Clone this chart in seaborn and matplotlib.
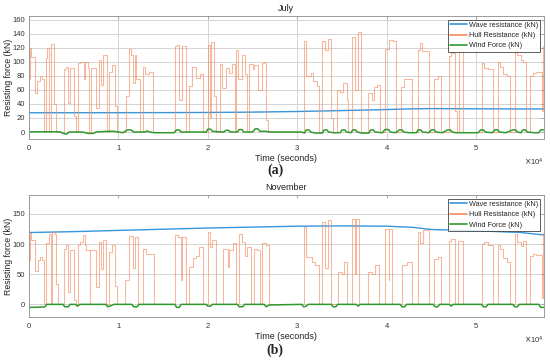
import numpy as np
import pandas as pd
import seaborn as sns
import matplotlib.pyplot as plt
from matplotlib.ticker import ScalarFormatter

# time axis values are in units of 1e4 seconds
wave_t = [0.0, 0.5, 1.0, 1.5, 2.0, 2.5, 3.0, 3.5, 4.0, 4.3, 4.5, 5.0, 5.5, 5.755]
jul_wave = [27.4, 27.4, 27.5, 27.6, 27.8, 28.3, 29.2, 30.5, 32.0, 33.0, 33.3, 33.0, 32.8, 32.8]
nov_wave = [119.0, 120.5, 122.5, 124.5, 126.5, 128.0, 129.5, 130.0, 129.5, 127.5, 124.0, 122.0, 119.0, 115.0]

# hull resistance, piecewise constant (value holds until next time)
jul_hull_t = [0.00, 0.01, 0.02, 0.07, 0.09, 0.12, 0.14, 0.17, 0.19, 0.205,
              0.225, 0.25, 0.28, 0.30, 0.39, 0.41, 0.44, 0.46, 0.50, 0.53,
              0.55, 0.57, 0.61, 0.63, 0.66, 0.675, 0.69, 0.75, 0.78, 0.80,
              0.83, 0.87, 0.89, 0.93, 0.96, 0.98, 1.09, 1.12, 1.14, 1.16,
              1.18, 1.20, 1.24, 1.27, 1.30, 1.34, 1.385, 1.635, 1.66, 1.68,
              1.71, 1.76, 1.79, 1.82, 1.87, 1.91, 1.94, 2.00, 2.025, 2.035,
              2.065, 2.09, 2.13, 2.16, 2.20, 2.24, 2.27, 2.30, 2.31, 2.34,
              2.38, 2.41, 2.44, 2.46, 2.50, 2.52, 2.555, 2.60, 2.625, 2.65,
              2.67, 3.077, 3.10, 3.15, 3.18, 3.215, 3.24, 3.28, 3.31, 3.34,
              3.375, 3.40, 3.44, 3.475, 3.51, 3.55, 3.57, 3.615, 3.65, 3.68,
              3.71, 3.79, 3.83, 3.86, 3.885, 3.92, 3.98, 4.03, 4.07, 4.10,
              4.16, 4.19, 4.22, 4.28, 4.35, 4.375, 4.395, 4.47, 4.53, 4.57,
              4.61, 4.69, 4.72, 4.76, 4.79, 4.805, 4.855, 5.06, 5.09, 5.13,
              5.19, 5.24, 5.26, 5.30, 5.34, 5.375, 5.43, 5.45, 5.50, 5.525,
              5.56, 5.60, 5.635, 5.67, 5.73, 5.745, 5.755]
jul_hull_v = [75, 119, 107, 56, 72, 79, 75, 0, 105, 119,
              0, 125, 40, 0, 89, 93, 41, 91, 23, 0,
              98, 100, 75, 100, 91, 0, 91, 34, 102, 67,
              109, 0, 85, 96, 37, 0, 51, 118, 110, 70,
              110, 75, 0, 93, 83, 86, 0, 122, 124, 46,
              123, 0, 65, 93, 77, 83, 0, 124, 20, 128,
              51, 0, 97, 63, 91, 84, 97, 0, 116, 75,
              109, 83, 0, 97, 90, 95, 60, 98, 99, 17,
              0, 129, 79, 84, 72, 65, 0, 129, 117, 132,
              20, 0, 60, 57, 70, 46, 0, 135, 60, 142,
              0, 55, 46, 64, 67, 0, 118, 131, 129, 0,
              64, 75, 76, 0, 117, 126, 115, 0, 75, 79,
              0, 108, 112, 30, 0, 117, 0, 98, 91, 89,
              0, 100, 93, 82, 79, 0, 116, 110, 103, 100,
              0, 80, 84, 85, 30, 122, 122]

nov_hull_t = [0.00, 0.01, 0.02, 0.07, 0.10, 0.12, 0.145, 0.17, 0.19, 0.22,
              0.245, 0.26, 0.29, 0.30, 0.32, 0.395, 0.415, 0.44, 0.46, 0.50,
              0.53, 0.55, 0.57, 0.605, 0.625, 0.64, 0.68, 0.685, 0.75, 0.78,
              0.80, 0.83, 0.865, 0.90, 0.93, 0.96, 0.98, 1.07, 1.12, 1.16,
              1.18, 1.22, 1.28, 1.31, 1.40, 1.635, 1.665, 1.70, 1.71, 1.76,
              1.79, 1.83, 1.87, 1.90, 1.94, 2.00, 2.02, 2.05, 2.09, 2.17,
              2.22, 2.24, 2.28, 2.31, 2.35, 2.38, 2.41, 2.44, 2.48, 2.52,
              2.55, 2.58, 2.61, 2.65, 2.68, 3.08, 3.10, 3.16, 3.20, 3.24,
              3.28, 3.31, 3.34, 3.38, 3.45, 3.50, 3.52, 3.56, 3.61, 3.645,
              3.66, 3.69, 3.79, 3.84, 3.87, 3.91, 3.98, 4.02, 4.03, 4.06,
              4.17, 4.23, 4.28, 4.35, 4.37, 4.40, 4.47, 4.53, 4.57, 4.61,
              4.69, 4.72, 4.76, 4.80, 4.855, 5.06, 5.09, 5.13, 5.19, 5.24,
              5.26, 5.30, 5.34, 5.375, 5.43, 5.45, 5.50, 5.525, 5.56, 5.60,
              5.635, 5.67, 5.73, 5.745, 5.755]
nov_hull_v = [73, 118, 107, 55, 73, 79, 73, 0, 101, 117,
              0, 120, 117, 34, 0, 92, 98, 20, 90, 7,
              0, 98, 103, 115, 98, 90, 0, 90, 29, 103,
              58, 106, 0, 87, 98, 30, 0, 40, 113, 60,
              112, 0, 92, 83, 0, 115, 112, 40, 112, 0,
              62, 76, 80, 95, 0, 120, 95, 106, 0, 92,
              62, 90, 101, 0, 117, 103, 80, 95, 0, 92,
              90, 0, 101, 98, 0, 128, 79, 71, 66, 0,
              137, 60, 139, 0, 54, 50, 71, 0, 141, 50,
              141, 0, 54, 50, 66, 0, 125, 40, 125, 0,
              66, 71, 0, 120, 102, 123, 0, 75, 79, 0,
              105, 108, 0, 105, 0, 100, 104, 98, 0, 98,
              92, 76, 70, 0, 116, 104, 96, 105, 0, 80,
              84, 82, 10, 118, 118]

# wind force
jul_wind_t = [0.0, 0.35, 0.38, 0.42, 0.45, 0.60, 0.66, 0.72, 0.75, 0.88,
              0.95, 1.00, 1.05, 1.10, 1.14, 1.17, 1.30, 1.32, 1.35, 1.40,
              1.62, 1.65, 1.68, 1.70, 1.98, 2.00, 2.03, 2.05, 2.18, 2.20,
              2.23, 2.25, 2.33, 2.35, 2.38, 2.40, 2.50, 2.53, 2.56, 2.58,
              2.65, 2.70, 3.05, 3.08, 3.10, 3.13, 3.15, 3.20, 3.28, 3.30,
              3.33, 3.35, 3.40, 3.48, 3.50, 3.53, 3.55, 3.60, 3.62, 3.65,
              3.67, 3.72, 3.80, 3.82, 3.85, 3.87, 3.95, 3.98, 4.02, 4.04,
              4.10, 4.14, 4.17, 4.19, 4.25, 4.33, 4.35, 4.38, 4.40, 4.47,
              4.50, 4.53, 4.55, 4.62, 4.68, 4.71, 4.73, 4.78, 5.02, 5.05,
              5.08, 5.10, 5.18, 5.21, 5.24, 5.26, 5.33, 5.41, 5.44, 5.46,
              5.50, 5.52, 5.55, 5.57, 5.65, 5.70, 5.72, 5.755]
jul_wind_v = [0.3, 0.3, -2, -3, 0, 0, -2, -2, 0, 1,
              1, 0, -1, 3, 3, 0, 0, 1.5, 0, -1,
              -1, 3, 3, 0, 0, 4, 4, 1, 0, 2.5,
              2.5, 0, 0, 3.5, 3.5, 0, 0, 4.5, 4.5, 1,
              1, 0, 0, -1.5, 3, 3, 0, -1.5, -1.5, 3,
              3, 0, -1, -1, 3, 3, 0, -1, 3, 3,
              0, -1.5, -1.5, 3, 3, 0, -1, 3.5, 3.5, 0,
              -1, 3, 3, 0, -1, -1, 3, 3, 0, -1,
              3, 3, 0, -1, 3, 3, 0, -1, -1, 3,
              3, 0, -1, 3, 3, 0, -1, 3, 3, 0,
              -1, 3, 3, 0, -1, -1, 3, 3]

nov_wind_t = [0.0, 0.15, 0.18, 0.20, 0.38, 0.40, 0.44, 0.46, 0.52, 0.54,
              0.57, 0.86, 0.88, 0.92, 0.95, 1.15, 1.17, 1.21, 1.23, 1.63,
              1.65, 1.68, 1.70, 1.98, 2.00, 2.03, 2.05, 2.33, 2.35, 2.39,
              2.41, 2.63, 2.65, 2.69, 3.05, 3.07, 3.10, 3.12, 3.38, 3.40,
              3.43, 3.45, 3.66, 3.68, 3.70, 4.15, 4.17, 4.20, 4.22, 4.52,
              4.54, 4.57, 4.59, 4.70, 4.72, 4.74, 5.06, 5.08, 5.11, 5.13,
              5.41, 5.43, 5.46, 5.48, 5.70, 5.72, 5.755]
nov_wind_v = [-5, -4.5, -4, 0, 0, -4, -4, 0, 0, -3,
              0, 0, -4, -2, 0, 0, -4, -4, 0, 0,
              -5, -5, 0, 0, -3, -3, 0, 0, -4, -4,
              0, 0, -4, -1, 0, -4, -3, 0, 0, -4,
              -4, 0, 0, -3, 0, 0, -4, -4, 0, 0,
              -4, -4, 0, 0, -3, 0, 0, -4, -4, 0,
              0, -4, -4, 0, 0, -5, -5]

blue = '#3596dc'
orange = '#f48a5e'
green = '#2e9a2e'

sns.set_style('white')
plt.rcParams['font.family'] = ['Liberation Sans', 'DejaVu Sans']

fig = plt.figure(figsize=(5.5, 3.64), dpi=100)
ax1 = fig.add_axes([0.0527, 0.618, 0.936, 0.338])
ax2 = fig.add_axes([0.0527, 0.129, 0.936, 0.335])

panels = [
    (ax1, 'July', jul_wave, jul_hull_t, jul_hull_v, jul_wind_t, jul_wind_v, (-10, 165), np.arange(0, 161, 20), True),
    (ax2, 'November', nov_wave, nov_hull_t, nov_hull_v, nov_wind_t, nov_wind_v, (-21, 181), [0, 50, 100, 150], False),
]

for ax, title, wave, ht, hv, wt, wv, ylim, yticks, xgrid in panels:
    sns.lineplot(x=np.array(wave_t) * 1e4, y=wave, ax=ax, color=blue, lw=1.0,
                 estimator=None, sort=False, label='Wave resistance (kN)')
    sns.lineplot(x=np.array(ht) * 1e4, y=hv, ax=ax, color=orange, lw=0.75, alpha=0.62,
                 estimator=None, sort=False, drawstyle='steps-post', label='Hull Resistance (kN)')
    sns.lineplot(x=np.array(wt) * 1e4, y=wv, ax=ax, color=green, lw=1.1,
                 estimator=None, sort=False, label='Wind Force (kN)')

    ax.set_xlim(0, 5.755e4)
    ax.set_ylim(*ylim)
    ax.set_yticks(yticks)
    ax.set_xticks(np.arange(0, 5.1e4, 1e4))
    fmt = ScalarFormatter(useMathText=True)
    fmt.set_powerlimits((0, 0))
    ax.xaxis.set_major_formatter(fmt)
    ax.xaxis.get_offset_text().set_fontsize(5.5)
    ax.xaxis.get_offset_text().set_color('#555555')

    ax.grid(True, axis='y', color='#d4d4d4', lw=0.7)
    if xgrid:
        ax.grid(True, axis='x', color='#d4d4d4', lw=0.7)
    ax.set_axisbelow(True)
    for s in ax.spines.values():
        s.set_color('#9a9a9a')
        s.set_linewidth(0.7)
    ax.tick_params(direction='in', length=2.5, width=0.6, colors='#9a9a9a',
                   labelcolor='#333333', labelsize=5.5, top=True, right=True, pad=3)

    ax.set_title(title, fontsize=6.5, pad=3.5, color='#222222')
    ax.set_xlabel('Time (seconds)', fontsize=6.5, labelpad=1, color='#222222')
    ax.set_ylabel('Resisting force (kN)', fontsize=6.3, color='#222222')
    ax.yaxis.set_label_coords(-0.031, 0.5)

    leg = ax.legend(loc='upper right', fontsize=5.2, frameon=True, fancybox=False,
                    handlelength=2.3, borderpad=0.3, labelspacing=0.45,
                    handletextpad=0.25, borderaxespad=0.5)
    leg.get_frame().set_edgecolor('#333333')
    leg.get_frame().set_linewidth(0.7)
    for line in leg.get_lines():
        line.set_alpha(1)
        line.set_linewidth(1.2)

fig.text(0.5, 1 - 170 / 364, '(a)', ha='center', va='center', fontsize=10,
         fontweight='bold', family=['Liberation Serif', 'DejaVu Serif'])
fig.text(0.5, 1 - 350 / 364, '(b)', ha='center', va='center', fontsize=10,
         fontweight='bold', family=['Liberation Serif', 'DejaVu Serif'])

fig.savefig('out.png', dpi=100, facecolor='white')
